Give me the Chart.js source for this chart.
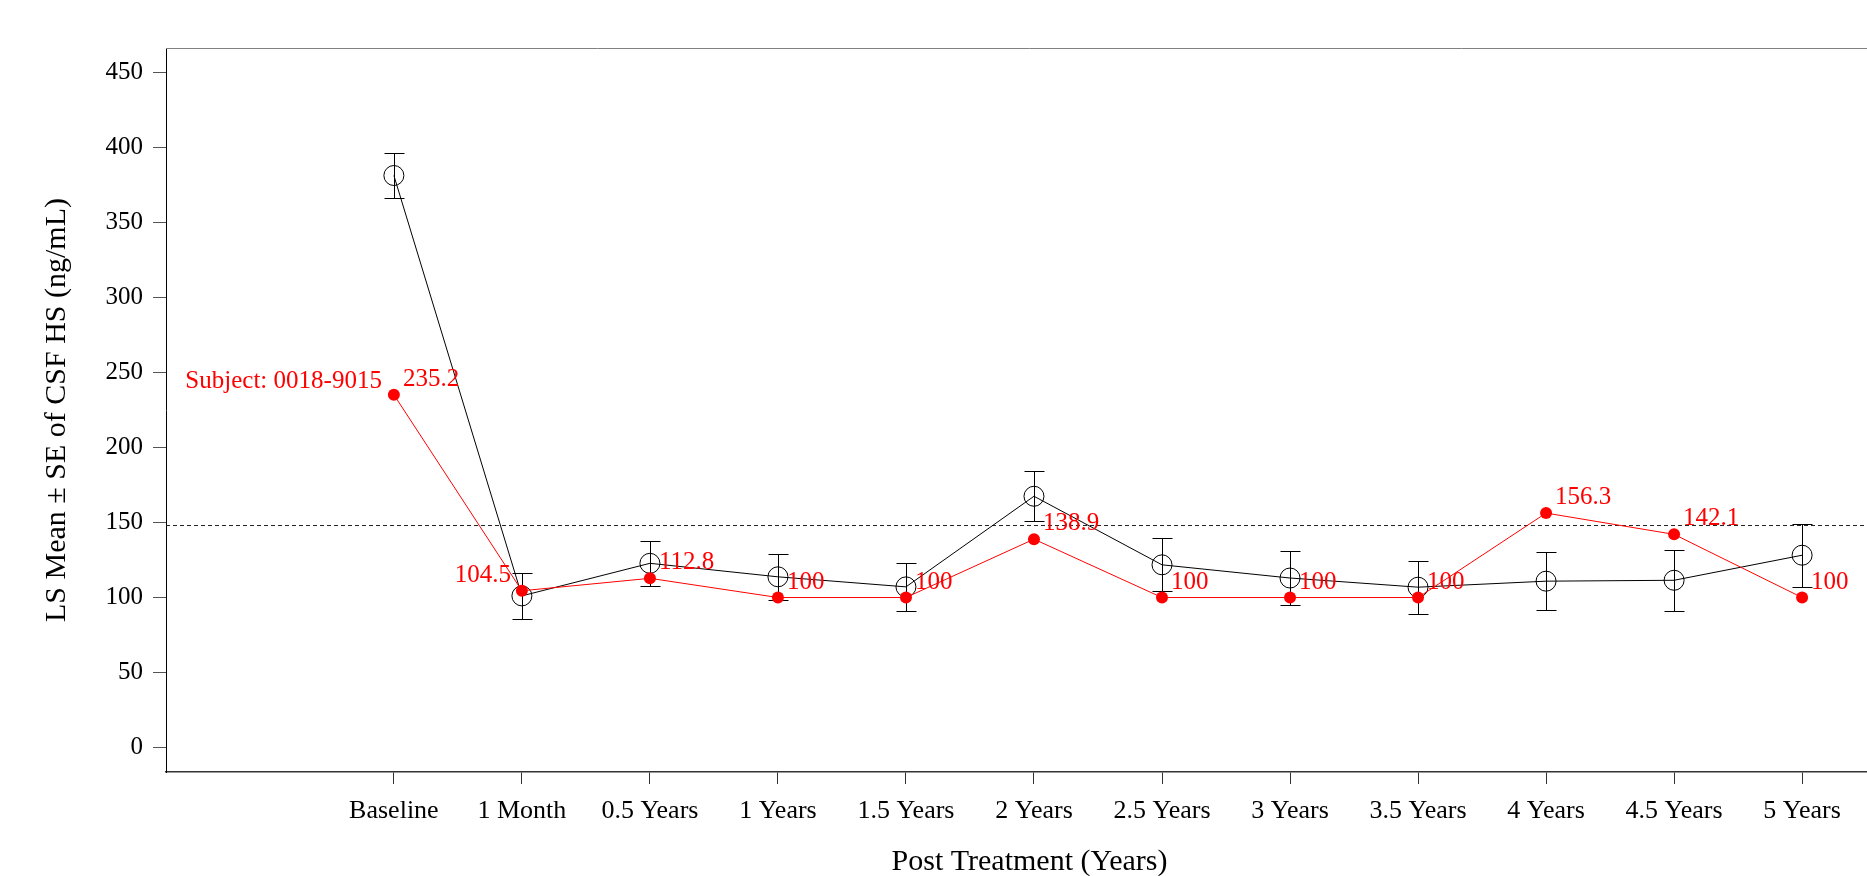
<!DOCTYPE html>
<html><head><meta charset="utf-8">
<script src="https://cdn.jsdelivr.net/npm/chart.js@4/dist/chart.umd.min.js"></script>
<style>html,body{margin:0;padding:0;overflow:hidden;background:#fff}canvas{display:block}</style>
</head><body>
<canvas id="c" width="1904" height="876"></canvas>
<script>
const categories = ['Baseline','1 Month','0.5 Years','1 Years','1.5 Years','2 Years','2.5 Years','3 Years','3.5 Years','4 Years','4.5 Years','5 Years'];
const lsMean = [381.3, 101.1, 122.8, 113.8, 107.1, 167.5, 121.8, 113.0, 106.9, 110.9, 111.5, 128.2];
const lsSE = [15.2, 15.2, 15.1, 15.5, 16.1, 16.7, 17.7, 18.2, 17.7, 19.4, 20.3, 21.1];
const subjectValues = [235.2, 104.5, 112.8, 100, 100, 138.9, 100, 100, 100, 156.3, 142.1, 100];
const subjectLabel = 'Subject: 0018-9015';
const referenceValue = 148;
const yTickValues = [0, 50, 100, 150, 200, 250, 300, 350, 400, 450];
const yTitle = 'LS Mean \u00b1 SE of CSF HS (ng/mL)';
const xTitle = 'Post Treatment (Years)';
const labelLeftOfPoint = [1];

const xMin = -1.78, xMax = 11.71;
const FONT = 'Liberation Serif';

const framePlugin = { id: 'frame', afterDraw(chart) {
  const {ctx, chartArea: a} = chart;
  ctx.save(); ctx.strokeStyle = '#808080'; ctx.lineWidth = 1;
  ctx.beginPath(); ctx.moveTo(a.left, a.top + 0.5); ctx.lineTo(a.right, a.top + 0.5); ctx.stroke();
  ctx.restore();
}};

const errorBarPlugin = { id: 'errbars', beforeDatasetsDraw(chart) {
  const {ctx, scales: {x, y}} = chart;
  ctx.save(); ctx.strokeStyle = '#000'; ctx.lineWidth = 1;
  lsMean.forEach((m, i) => {
    const px = Math.round(x.getPixelForValue(i)) + 0.5;
    const top = Math.round(y.getPixelForValue(m + lsSE[i])) + 0.5;
    const bot = Math.round(y.getPixelForValue(m - lsSE[i])) + 0.5;
    ctx.beginPath();
    ctx.moveTo(px, top); ctx.lineTo(px, bot);
    ctx.moveTo(px - 10, top); ctx.lineTo(px + 10, top);
    ctx.moveTo(px - 10, bot); ctx.lineTo(px + 10, bot);
    ctx.stroke();
  });
  ctx.restore();
}};

const labelPlugin = { id: 'labels', afterDatasetsDraw(chart) {
  const meta = chart.getDatasetMeta(0);
  const ctx = chart.ctx;
  ctx.save(); ctx.fillStyle = '#ff0000'; ctx.font = '25px "' + FONT + '"'; ctx.textBaseline = 'alphabetic';
  meta.data.forEach((pt, i) => {
    const txt = String(subjectValues[i]);
    if (labelLeftOfPoint.includes(i)) { ctx.textAlign = 'right'; ctx.fillText(txt, pt.x - 11, pt.y - 9); }
    else { ctx.textAlign = 'left'; ctx.fillText(txt, pt.x + 9, pt.y - 9); }
  });
  const p0 = meta.data[0];
  ctx.textAlign = 'right'; ctx.fillText(subjectLabel, p0.x - 12, p0.y - 7);
  ctx.restore();
}};

new Chart(document.getElementById('c'), {
  type: 'line',
  data: { datasets: [
    { label: 'subject', data: subjectValues.map((v, i) => ({x: i, y: v})), borderColor: '#ff0000', backgroundColor: '#ff0000',
      borderWidth: 1, pointRadius: 6, pointBorderWidth: 0, pointHoverRadius: 6, order: 0 },
    { label: 'mean', data: lsMean.map((v, i) => ({x: i, y: v})), borderColor: '#000', backgroundColor: 'rgba(0,0,0,0)',
      pointBackgroundColor: 'rgba(0,0,0,0)', borderWidth: 1, pointRadius: 10, pointBorderWidth: 1, order: 1 },
    { label: 'ref', data: [{x: xMin, y: referenceValue}, {x: xMax, y: referenceValue}], borderColor: '#222',
      borderWidth: 1, borderDash: [4, 3], pointRadius: 0, order: 2 }
  ]},
  options: {
    responsive: false, animation: false, events: [],
    layout: { padding: { top: 48, left: 0, right: 2, bottom: 0 } },
    plugins: { legend: { display: false }, tooltip: { enabled: false } },
    scales: {
      x: { type: 'linear', min: xMin, max: xMax,
        afterBuildTicks: s => { s.ticks = categories.map((c, i) => ({value: i})); },
        afterFit: s => { s.height = 104; },
        ticks: { callback: v => categories[v], font: {family: FONT, size: 26}, color: '#000', padding: 12, maxRotation: 0, autoSkip: false },
        grid: { drawOnChartArea: false, tickLength: 12, tickColor: '#333', tickWidth: 1 },
        border: { color: '#333', width: 1.5 },
        title: { display: true, text: xTitle, font: {family: FONT, size: 30, lineHeight: 1}, color: '#000', padding: {top: 0, bottom: -1} }
      },
      y: { min: -16.3, max: 466.3,
        afterBuildTicks: s => { s.ticks = yTickValues.map(v => ({value: v})); },
        afterFit: s => { s.width = 166; },
        ticks: { font: {family: FONT, size: 25}, color: '#000', padding: 10 },
        grid: { drawOnChartArea: false, tickLength: 13, tickColor: '#555' },
        border: { color: '#000', width: 1 },
        title: { display: true, text: yTitle, font: {family: FONT, size: 30}, color: '#000', padding: {top: 39, bottom: 0} }
      }
    }
  },
  plugins: [framePlugin, errorBarPlugin, labelPlugin]
});
</script>
</body></html>
